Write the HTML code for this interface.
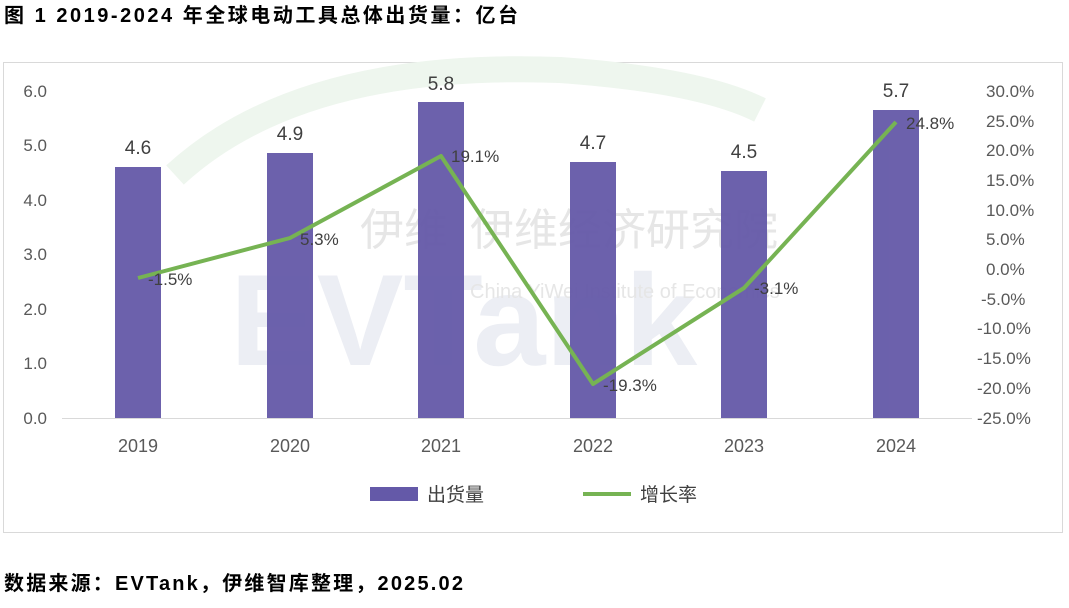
<!DOCTYPE html>
<html><head><meta charset="utf-8"><style>
body{margin:0;background:#fff;}
svg text{font-family:"Liberation Sans","Noto Sans CJK SC",sans-serif;}
</style></head><body>
<svg width="1069" height="603" xmlns="http://www.w3.org/2000/svg">
<rect width="1069" height="603" fill="#fff"/>
<text x="4" y="22" font-size="20" font-weight="bold" fill="#000" textLength="514" lengthAdjust="spacing">图 1 2019-2024 年全球电动工具总体出货量：亿台</text>
<rect x="3.5" y="62.5" width="1059" height="470" fill="#fff" stroke="#d9d9d9"/>
<!-- faint watermark -->
<path d="M175 175 Q300 60 560 70 Q700 80 760 110" fill="none" stroke="#eef6ee" stroke-width="26"/>
<text x="230" y="365" font-size="130" font-weight="bold" fill="#eceef4">EVTank</text>
<text x="360" y="245" font-size="44" fill="#e6e6e6">伊维</text>
<text x="470" y="245" font-size="44" fill="#e6e6e6">伊维经济研究院</text>
<text x="470" y="298" font-size="20" fill="#e6e6e6">China YiWei Institute of Economics</text>
<g font-size="17" fill="#595959" text-anchor="end">
<text x="47" y="97">6.0</text><text x="47" y="151">5.0</text><text x="47" y="206">4.0</text><text x="47" y="260">3.0</text><text x="47" y="315">2.0</text><text x="47" y="369">1.0</text><text x="47" y="424">0.0</text>
</g>
<g font-size="17" fill="#595959" text-anchor="start">
<text x="986" y="97">30.0%</text><text x="986" y="127">25.0%</text><text x="986" y="156">20.0%</text><text x="986" y="186">15.0%</text><text x="986" y="216">10.0%</text><text x="986" y="245">5.0%</text><text x="986" y="275">0.0%</text><text x="981" y="305">-5.0%</text><text x="977" y="334">-10.0%</text><text x="977" y="364">-15.0%</text><text x="977" y="394">-20.0%</text><text x="977" y="424">-25.0%</text>
</g>
<line x1="62" y1="418.5" x2="972" y2="418.5" stroke="#d9d9d9"/>
<g fill="#6459a8" opacity="0.95">
<rect x="115" y="167" width="46" height="251"/>
<rect x="267" y="153" width="46" height="265"/>
<rect x="418" y="102" width="46" height="316"/>
<rect x="570" y="162" width="46" height="256"/>
<rect x="721" y="171" width="46" height="247"/>
<rect x="873" y="110" width="46" height="308"/>
</g>
<g font-size="19" fill="#404040" text-anchor="middle">
<text x="138" y="154">4.6</text><text x="290" y="140">4.9</text><text x="441" y="90">5.8</text><text x="593" y="149">4.7</text><text x="744" y="158">4.5</text><text x="896" y="97">5.7</text>
</g>
<polyline points="138,278 290,238 441,156 593,384 744,288 896,122" fill="none" stroke="#76b353" stroke-width="4" stroke-linejoin="round"/>
<g font-size="17" fill="#404040">
<text x="148" y="285">-1.5%</text><text x="300" y="245">5.3%</text><text x="451" y="162">19.1%</text><text x="603" y="391">-19.3%</text><text x="754" y="294">-3.1%</text><text x="906" y="129">24.8%</text>
</g>
<g font-size="18" fill="#595959" text-anchor="middle">
<text x="138" y="452">2019</text><text x="290" y="452">2020</text><text x="441" y="452">2021</text><text x="593" y="452">2022</text><text x="744" y="452">2023</text><text x="896" y="452">2024</text>
</g>
<rect x="370" y="487" width="48" height="14" fill="#6459a8"/>
<text x="427" y="501" font-size="19" fill="#404040">出货量</text>
<line x1="583" y1="494" x2="631" y2="494" stroke="#76b353" stroke-width="4"/>
<text x="640" y="501" font-size="19" fill="#404040">增长率</text>
<text x="4" y="590" font-size="20" font-weight="bold" fill="#000" textLength="459" lengthAdjust="spacing">数据来源：EVTank，伊维智库整理，2025.02</text>
</svg>
</body></html>
